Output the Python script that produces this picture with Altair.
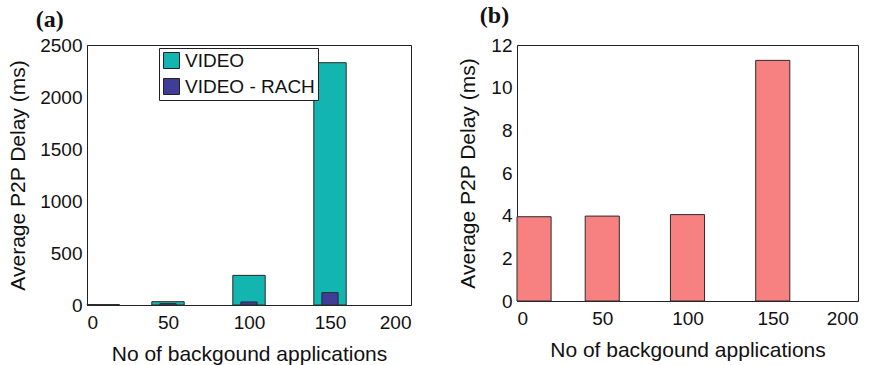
import altair as alt
import pandas as pd

# ---- data ----
apps = [0, 50, 100, 150]
video_delay = [4, 32, 285, 2330]
video_rach_delay = [2, 13, 29, 119]
video_start = [0, 40, 90, 140]
video_end = [20, 60, 110, 160]
rach_start = [0, 45, 95, 145]
rach_end = [5, 55, 105, 155]

b_delay = [3.95, 3.98, 4.05, 11.28]
b_start = [0, 40, 90, 140]
b_end = [20, 60, 110, 160]

x_ticks = [0, 50, 100, 150, 200]
ya_ticks = [0, 500, 1000, 1500, 2000, 2500]
yb_ticks = [0, 2, 4, 6, 8, 10, 12]

series = ["VIDEO", "VIDEO - RACH"]
colors = ["#12B5B0", "#3F3D98"]

df_a = pd.DataFrame({
    "apps": apps + apps,
    "series": [series[0]] * 4 + [series[1]] * 4,
    "start": video_start + rach_start,
    "end": video_end + rach_end,
    "delay": video_delay + video_rach_delay,
})
df_b = pd.DataFrame({"apps": apps, "start": b_start, "end": b_end, "delay": b_delay})

FONT = "Liberation Sans"

def x_axis():
    return alt.Axis(values=x_ticks, title="No of backgound applications", labelFontSize=19,
                    titleFontSize=21, labelPadding=8, titlePadding=11, ticks=False,
                    grid=False, labelFont=FONT, titleFont=FONT, labelColor="#111",
                    titleColor="#111", domainColor="#222", titleFontWeight="normal",
                    format="d")

def y_axis(vals, tpad):
    return alt.Axis(values=vals, title="Average P2P Delay (ms)", labelFontSize=19,
                    titleFontSize=21, labelPadding=5, titlePadding=tpad, ticks=False,
                    grid=False, labelFont=FONT, titleFont=FONT, labelColor="#111",
                    titleColor="#111", domainColor="#222", titleFontWeight="normal",
                    format="d")

chart_a = alt.Chart(df_a).mark_bar(stroke="#2a2a2a", strokeWidth=1).encode(
    x=alt.X("start:Q", scale=alt.Scale(domain=[0, 200], nice=False), axis=x_axis()),
    x2="end:Q",
    y=alt.Y("delay:Q", scale=alt.Scale(domain=[0, 2500], nice=False), axis=y_axis(ya_ticks, 11)),
    y2=alt.datum(0),
    color=alt.Color("series:N", scale=alt.Scale(domain=series, range=colors),
                    sort=series,
                    legend=alt.Legend(orient="none", legendX=72, legendY=3, title=None,
                                      fillColor="white", strokeColor="#222", padding=3,
                                      symbolType="square", symbolSize=256,
                                      symbolStrokeColor="#222", symbolStrokeWidth=1,
                                      labelFontSize=19, labelFont=FONT, labelColor="#111",
                                      rowPadding=5, labelOffset=4)),
).properties(
    width=324, height=260,
    title=alt.TitleParams("(a)", anchor="start", frame="bounds", dx=28, offset=4,
                          font="Liberation Serif", fontSize=24, fontWeight="bold", color="#111"),
)

chart_b = alt.Chart(df_b).mark_bar(stroke="#2a2a2a", strokeWidth=1, color="#F78181").encode(
    x=alt.X("start:Q", scale=alt.Scale(domain=[0, 200], nice=False), axis=x_axis()),
    x2="end:Q",
    y=alt.Y("delay:Q", scale=alt.Scale(domain=[0, 12], nice=False), axis=y_axis(yb_ticks, 12)),
    y2=alt.datum(0),
).properties(
    width=341, height=256,
    title=alt.TitleParams("(b)", anchor="start", frame="bounds", dx=22, offset=8,
                          font="Liberation Serif", fontSize=24, fontWeight="bold", color="#111"),
)

chart = alt.hconcat(chart_a, chart_b, spacing=45).configure_view(
    stroke="#222", strokeWidth=1
).properties(
    padding={"left": 7, "top": 3, "right": 0, "bottom": 0}
)

chart.save("out.html", embed_options={"renderer": "svg", "actions": False})
